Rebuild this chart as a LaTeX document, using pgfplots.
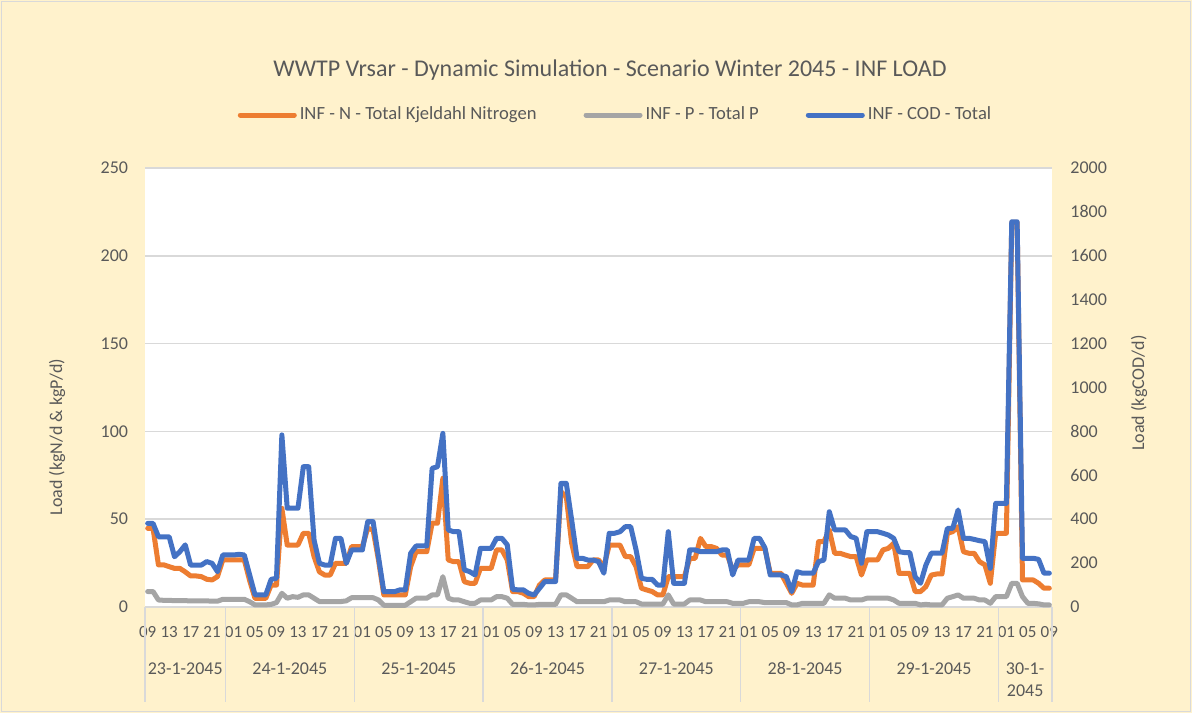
\documentclass[border=0pt]{standalone}
\usepackage{fontspec}
\setmainfont{Carlito}
\usepackage{pgfplots}
\pgfplotsset{compat=1.18}
\usepackage{pgfplotstable}
\definecolor{bgc}{HTML}{FFF2CC}
\definecolor{txt}{HTML}{595959}
\definecolor{gridc}{HTML}{D9D9D9}
\definecolor{cN}{HTML}{ED7D31}
\definecolor{cP}{HTML}{A5A5A5}
\definecolor{cC}{HTML}{4472C4}

\pgfplotstableread{
h N P COD
0 44.8 8.8 381
1 44.8 8.8 381
2 24.0 4.0 320
3 24.0 3.8 320
4 23.0 3.8 320
5 22.0 3.6 229
6 22.0 3.6 252
7 20.0 3.6 283
8 17.7 3.5 191
9 17.7 3.5 191
10 17.3 3.5 191
11 15.8 3.5 207
12 15.4 3.3 199
13 17.3 3.3 161
14 26.8 4.4 237
15 26.8 4.4 237
16 26.8 4.4 237
17 26.8 4.4 240
18 26.8 4.4 237
19 15.0 3.0 146
20 4.9 1.2 55
21 4.9 1.2 55
22 4.9 1.2 55
23 12.5 1.5 126
24 12.5 2.5 131
25 56.2 7.8 784
26 35.3 5.0 450
27 35.3 5.9 450
28 35.3 5.5 450
29 42.0 6.9 639
30 42.0 6.9 639
31 28.7 5.0 305
32 20.0 3.1 199
33 18.2 3.1 191
34 18.2 3.1 191
35 24.9 3.1 313
36 24.9 3.1 313
37 24.9 3.5 199
38 34.4 5.3 260
39 34.4 5.3 260
40 34.4 5.3 260
41 44.8 5.3 389
42 43.9 5.3 389
43 26.8 4.0 229
44 6.9 1.0 70
45 6.9 1.0 70
46 6.9 1.0 70
47 6.9 1.0 78
48 6.9 1.0 78
49 23.0 3.0 245
50 31.5 5.0 278
51 31.5 5.0 278
52 31.5 5.0 278
53 47.7 6.9 632
54 47.7 6.9 639
55 73.3 17.3 791
56 26.8 5.0 351
57 25.8 4.0 343
58 25.8 4.0 343
59 14.4 3.0 169
60 13.5 2.1 161
61 13.5 2.1 146
62 22.0 4.0 267
63 22.0 4.0 267
64 22.0 4.0 267
65 32.5 5.9 313
66 32.5 5.9 313
67 26.8 5.0 283
68 8.8 1.5 81
69 8.8 1.5 78
70 7.8 1.5 78
71 5.9 1.2 62
72 5.9 1.2 55
73 12.5 1.5 85
74 15.4 1.5 116
75 15.4 1.5 116
76 15.4 1.5 116
77 65.7 6.9 563
78 62.8 6.9 563
79 36.3 5.0 396
80 23.0 3.0 222
81 23.0 3.0 222
82 23.0 3.0 214
83 26.8 3.0 214
84 26.8 3.0 207
85 23.0 3.0 154
86 35.3 4.0 336
87 35.3 4.0 336
88 35.3 4.0 343
89 28.7 3.0 366
90 28.7 3.0 366
91 23.0 3.0 260
92 10.7 1.7 131
93 9.7 1.7 126
94 8.8 1.7 126
95 6.9 1.7 100
96 6.9 1.7 100
97 17.3 6.9 343
98 17.3 1.7 108
99 17.3 1.7 108
100 17.3 1.7 108
101 27.7 4.0 260
102 27.7 4.0 260
103 39.1 4.0 252
104 34.4 3.0 252
105 34.4 3.0 252
106 33.4 3.0 252
107 29.6 3.0 260
108 29.6 3.0 260
109 21.0 2.1 146
110 24.0 2.1 214
111 24.0 2.1 214
112 24.0 3.0 214
113 33.4 3.0 313
114 33.4 3.0 313
115 33.4 2.5 270
116 19.2 2.5 146
117 19.2 2.5 146
118 19.2 2.5 146
119 13.5 2.5 138
120 7.8 1.2 70
121 13.5 1.2 161
122 12.5 2.1 154
123 12.5 2.1 154
124 12.5 2.1 154
125 37.2 2.1 207
126 37.2 2.1 214
127 43.9 6.9 434
128 30.6 5.0 351
129 30.6 5.0 351
130 29.6 5.0 351
131 28.7 4.0 321
132 28.7 4.0 313
133 18.2 4.0 199
134 26.8 5.0 343
135 26.8 5.0 343
136 26.8 5.0 343
137 32.5 5.0 336
138 33.4 5.0 328
139 36.3 4.0 313
140 19.2 2.1 252
141 19.2 2.1 248
142 19.2 2.1 248
143 8.8 2.1 138
144 8.8 1.2 108
145 11.6 1.5 191
146 18.2 1.2 245
147 18.8 1.2 245
148 18.8 1.2 245
149 42.0 5.0 358
150 42.9 5.9 358
151 45.8 6.9 442
152 31.5 5.0 313
153 30.6 5.0 313
154 30.6 5.0 308
155 25.8 4.0 302
156 24.0 4.0 298
157 13.5 2.1 176
158 42.0 5.9 472
159 42.0 5.9 472
160 42.0 5.9 472
161 219.0 13.5 1755
162 219.0 13.5 1755
163 15.4 5.9 222
164 15.4 2.1 222
165 15.4 2.1 222
166 13.5 1.8 217
167 10.7 1.2 154
168 10.7 1.2 154
}\loaddata

\pgfplotsset{
  common/.style={
    at={(72.5pt,53pt)}, anchor=south west,
    width=453.5pt, height=219.5pt, scale only axis,
    xmin=-0.5, xmax=168.5,
    major tick length=0pt,
    axis line style={draw=none},
    tick label style={font=\fontsize{9}{10}\selectfont, text=txt, inner sep=0pt},
    /pgf/number format/assume math mode=true,
    /pgf/number format/1000 sep={},
  },
  dline/.style={line width=2.5pt, line join=round, line cap=round},
}

\begin{document}
\begin{tikzpicture}
\fill[bgc] (0,0) rectangle (596pt,356.5pt);
\draw[gridc, line width=0.6pt] (0.6pt,0.6pt) rectangle (595.4pt,355.9pt);
\begin{axis}[
  common,
  ymin=0, ymax=250,
  ytick={0,50,...,250},
  xtick={0,4,...,168},
  xticklabels={09,13,17,21,01,05,09,13,17,21,01,05,09,13,17,21,01,05,09,13,17,21,01,05,09,13,17,21,01,05,09,13,17,21,01,05,09,13,17,21,01,05,09},
  xticklabel style={anchor=center, font=\fontsize{8.5}{10}\selectfont},
  xticklabel shift=12.4pt,
  yticklabel shift=8.3pt,
  ymajorgrids, grid style={gridc, line width=0.75pt},
  axis background/.style={fill=white},
  clip=false,
  every axis y label/.style={at={(rel axis cs:0,0.387)}, xshift=-44pt, rotate=90, anchor=center, font=\fontsize{9}{10}\selectfont, text=txt},
  ylabel={Load (kgN/d \& kgP/d)},
  title={WWTP Vrsar - Dynamic Simulation - Scenario Winter 2045 - INF LOAD},
  title style={at={(0.5,1)}, anchor=center, yshift=43pt, xshift=5.75pt, font=\fontsize{12}{14}\selectfont, text=txt},
  legend columns=3,
  legend style={at={(0.5,1)}, anchor=center, yshift=26.5pt, xshift=8.75pt, draw=none, fill=none,
    font=\fontsize{9.3}{11}\selectfont, text=txt, nodes={inner sep=1.5pt},
    /tikz/every even column/.append style={column sep=22pt}},
  legend image code/.code={\draw[#1, line cap=round] (0pt,0pt) -- (27pt,0pt);},
]
\addplot[cN, dline] table[x=h, y=N] {\loaddata};
\addlegendentry{INF - N - Total Kjeldahl Nitrogen}
\addplot[cP, dline] table[x=h, y=P] {\loaddata};
\addlegendentry{INF - P - Total P}
\addlegendimage{cC, dline}
\addlegendentry{INF - COD - Total}
\pgfplotsinvokeforeach{-0.5,14.5,38.5,62.5,86.5,110.5,134.5,158.5,168.5}{
  \draw[gridc, line width=0.75pt] (axis cs:#1,0) -- ++(0pt,-47.5pt);
}
\begin{scope}[every node/.style={font=\fontsize{9}{11}\selectfont, text=txt}]
\node at (axis cs:7,0) [yshift=-30.8pt] {23-1-2045};
\node at (axis cs:26.5,0) [yshift=-30.8pt] {24-1-2045};
\node at (axis cs:50.5,0) [yshift=-30.8pt] {25-1-2045};
\node at (axis cs:74.5,0) [yshift=-30.8pt] {26-1-2045};
\node at (axis cs:98.5,0) [yshift=-30.8pt] {27-1-2045};
\node at (axis cs:122.5,0) [yshift=-30.8pt] {28-1-2045};
\node at (axis cs:146.5,0) [yshift=-30.8pt] {29-1-2045};
\node[align=center] at (axis cs:163.5,0) [yshift=-36.3pt] {30-1-\\2045};
\end{scope}
\end{axis}
\begin{axis}[
  common,
  ymin=0, ymax=2000,
  ytick={0,200,...,2000},
  axis y line*=right, axis x line=none,
  yticklabel shift=9pt,
  every axis y label/.style={at={(rel axis cs:1,0.4875)}, xshift=43.5pt, rotate=90, anchor=center, font=\fontsize{9}{10}\selectfont, text=txt},
  ylabel={Load (kgCOD/d)},
]
\addplot[cC, dline] table[x=h, y=COD] {\loaddata};
\end{axis}
\pgfresetboundingbox
\path (0,0) rectangle (596pt,356.5pt);
\end{tikzpicture}
\end{document}
